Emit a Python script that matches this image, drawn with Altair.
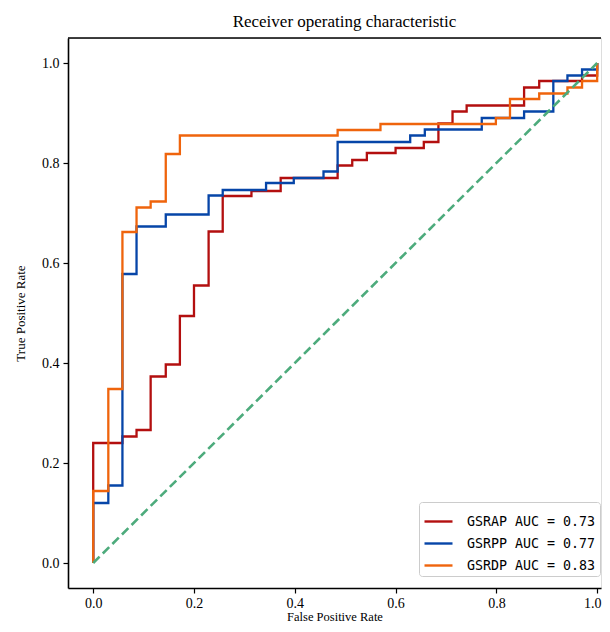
import altair as alt
import pandas as pd

# ---- data ----
series_names = ["GSRAP AUC = 0.73", "GSRPP AUC = 0.77", "GSRDP AUC = 0.83"]
series_colors = ["#b30f0f", "#0645a8", "#ef640c"]

gsrap_fpr = [0, 0, .058, .058, .086, .086, .114, .114, .144, .144, .172, .172, .2, .2, .229, .229,
             .257, .257, .314, .314, .372, .372, .485, .485, .514, .514, .543, .543, .6, .6, .656, .656,
             .685, .685, .713, .713, .741, .741, .855, .855, .885, .885, .97, .97, 1, 1]
gsrap_tpr = [0, .24, .24, .253, .253, .266, .266, .373, .373, .397, .397, .494, .494, .555, .555, .663,
             .663, .734, .734, .744, .744, .770, .770, .795, .795, .806, .806, .82, .82, .83, .83, .842,
             .842, .879, .879, .903, .903, .915, .915, .951, .951, .964, .964, .975, .975, 1]

gsrpp_fpr = [0, 0, .03, .03, .058, .058, .086, .086, .144, .144, .229, .229, .257, .257, .343, .343,
             .398, .398, .457, .457, .485, .485, .629, .629, .658, .658, .771, .771, .855, .855, .913, .913,
             .941, .941, .970, .970, 1, 1]
gsrpp_tpr = [0, .12, .12, .155, .155, .578, .578, .673, .673, .697, .697, .735, .735, .746, .746, .760,
             .760, .770, .770, .783, .783, .842, .842, .855, .855, .867, .867, .89, .89, .903, .903, .964,
             .964, .975, .975, .987, .987, 1]

gsrdp_fpr = [0, 0, .03, .03, .058, .058, .086, .086, .114, .114, .144, .144, .172, .172, .485, .485,
             .570, .570, .799, .799, .827, .827, .885, .885, .941, .941, .970, .970, 1, 1]
gsrdp_tpr = [0, .144, .144, .348, .348, .662, .662, .711, .711, .723, .723, .818, .818, .855, .855, .866,
             .866, .878, .878, .89, .89, .928, .928, .939, .939, .951, .951, .964, .964, 1]

diag_x = [0, 1]
diag_y = [0, 1]

x_ticks = [0.0, 0.2, 0.4, 0.6, 0.8, 1.0]
y_ticks = [0.0, 0.2, 0.4, 0.6, 0.8, 1.0]

# ---- build tables ----
def make_df(name, xs, ys):
    return pd.DataFrame({"fpr": xs, "tpr": ys, "series": name, "order": list(range(len(xs)))})

frames = [make_df(series_names[0], gsrap_fpr, gsrap_tpr),
          make_df(series_names[1], gsrpp_fpr, gsrpp_tpr),
          make_df(series_names[2], gsrdp_fpr, gsrdp_tpr)]
diag_df = pd.DataFrame({"fpr": diag_x, "tpr": diag_y})

W, H = 533, 550
SERIF = "Liberation Serif"

x_scale = alt.Scale(domain=[-0.05, 1.0076], nice=False, zero=False)
y_scale = alt.Scale(domain=[-0.05, 1.05], nice=False, zero=False)
x_axis = alt.Axis(values=x_ticks, format=".1f", title="False Positive Rate", grid=False,
                  labelFont=SERIF, labelFontSize=14, labelColor="black", labelPadding=3,
                  labelOffset={"condition": {"test": "datum.value >= 0.99", "value": -5}, "value": 0},
                  tickSize=5, tickColor="black", tickWidth=1.2,
                  domainColor="black", domainWidth=1.6,
                  titleFont=SERIF, titleFontSize=12.5, titleFontWeight="normal",
                  titleColor="black", titlePadding=0)
y_axis = alt.Axis(values=y_ticks, format=".1f", title="True Positive Rate", grid=False,
                  labelFont=SERIF, labelFontSize=14, labelColor="black", labelPadding=4,
                  tickSize=5, tickColor="black", tickWidth=1.2,
                  domainColor="black", domainWidth=1.6,
                  titleFont=SERIF, titleFontSize=13, titleFontWeight="normal",
                  titleColor="black", titlePadding=14)

color_scale = alt.Scale(domain=series_names, range=series_colors)
legend = alt.Legend(title=None, orient="none", legendX=351, legendY=464,
                    symbolType="stroke", symbolSize=784, symbolStrokeWidth=2.4,
                    labelFont="DejaVu Sans Mono", labelFontSize=13.3, labelColor="black",
                    labelOffset=13, padding=4, rowPadding=0,
                    strokeColor="#cccccc", fillColor="white", cornerRadius=3,
                    labelLimit=400)

layers = []
for i, df in enumerate(frames):
    layers.append(
        alt.Chart(df).mark_line(strokeWidth=2.3, interpolate="linear").encode(
            x=alt.X("fpr:Q", scale=x_scale, axis=x_axis),
            y=alt.Y("tpr:Q", scale=y_scale, axis=y_axis),
            color=alt.Color("series:N", scale=color_scale, legend=legend),
            order="order:Q",
        )
    )

diag = alt.Chart(diag_df).mark_line(color="#4dab7c", strokeWidth=2.6, strokeDash=[9, 4.5]).encode(
    x=alt.X("fpr:Q", scale=x_scale, axis=x_axis),
    y=alt.Y("tpr:Q", scale=y_scale, axis=y_axis),
)

top_border = alt.Chart(pd.DataFrame({"k": [0]})).mark_rule(color="black", strokeWidth=1.6).encode(
    x=alt.value(0), x2=alt.value(W), y=alt.value(0)
)

chart = alt.layer(*layers, diag, top_border).properties(
    width=W, height=H,
    title=alt.TitleParams("Receiver operating characteristic", font=SERIF, fontSize=17,
                          fontWeight="normal", color="black", anchor="middle", dx=10, offset=6),
    autosize=alt.AutoSizeParams(type="none"),
    padding={"left": 60, "top": 30, "right": 1, "bottom": 35},
).configure_view(stroke=None).configure(background="white")

chart.save("out.html", embed_options={"renderer": "svg", "actions": False})
